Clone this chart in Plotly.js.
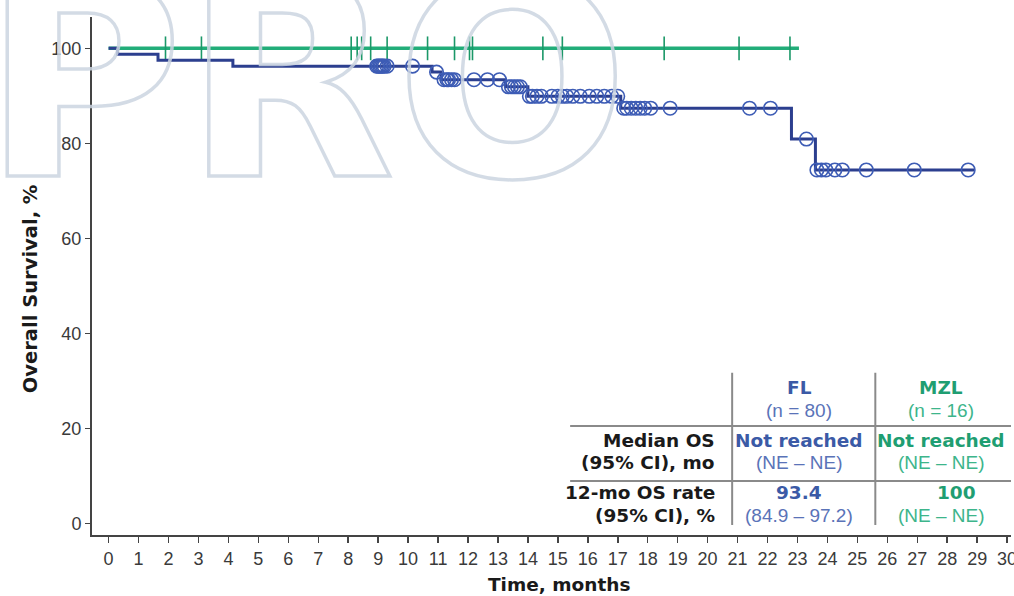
<!DOCTYPE html>
<html>
<head>
<meta charset="utf-8">
<script src="https://cdn.plot.ly/plotly-3.0.1.min.js"></script>
<style>
  html, body { margin: 0; padding: 0; background: #ffffff; }
  #chart { width: 1014px; height: 596px; }
  /* outlined "PRO" mark */
  .annotation[data-index="0"] .annotation-text {
    fill: none !important;
    stroke: rgba(203, 213, 224, 0.85);
    stroke-width: 3.5px;
  }
</style>
</head>
<body>
<div id="chart"></div>
<script>
// ---- Kaplan-Meier data (months, % surviving) ----
// FL: event times and survival just after each event
const flEventTimes = [0.3, 1.65, 4.15, 10.8, 11.1, 13.25, 14.0, 17.1, 22.8, 23.6];
const flSurvival   = [98.75, 97.5, 96.25, 95.0, 93.4, 91.9, 89.9, 87.4, 80.9, 74.4];
const flCensorTimes = [
  8.95, 9.0, 9.05, 9.1, 9.15, 9.2, 9.3, 10.15,
  10.95,
  11.2, 11.3, 11.35, 11.45, 11.55, 12.2, 12.65, 13.05,
  13.35, 13.45, 13.55, 13.65, 13.75,
  14.05, 14.15, 14.3, 14.45, 14.8, 15.0, 15.15, 15.3, 15.5, 15.75, 16.05, 16.3, 16.55, 16.8, 17.0,
  17.2, 17.3, 17.45, 17.6, 17.75, 17.9, 18.1, 18.75, 21.4, 22.1,
  23.3,
  23.65, 23.8, 23.95, 24.25, 24.5, 25.3, 26.9, 28.7
];
const flLastFollowUp = 28.9;

// MZL: no deaths observed
const mzlEventTimes = [];
const mzlSurvival   = [];
const mzlCensorTimes = [1.9, 3.1, 8.1, 8.3, 8.45, 8.75, 9.3, 10.65, 11.55, 12.05, 12.15,
                        14.5, 15.15, 18.55, 21.05, 22.75];
const mzlLastFollowUp = 23.05;

// ---- summary table ----
const groupNames   = ['FL', 'MZL'];
const groupN       = ['(n = 80)', '(n = 16)'];
const medianOS     = ['Not reached', 'Not reached'];
const medianOSCI   = ['(NE \u2013 NE)', '(NE \u2013 NE)'];
const rate12mo     = ['93.4', '100'];
const rate12moCI   = ['(84.9 \u2013 97.2)', '(NE \u2013 NE)'];
const rowLabels    = [['Median OS', '(95% CI), mo'], ['12-mo OS rate', '(95% CI), %']];

// ---- axes ----
const xTicks = Array.from({length: 31}, (_, i) => i);
const yTicks = [0, 20, 40, 60, 80, 100];

// ---- styling ----
const FL_LINE = '#2c3f8f', FL_MARK = '#3d5cb5', FL_TEXT = '#3b5aa6', FL_TEXT2 = '#5a73b8';
const MZL_LINE = '#22ad79', MZL_MARK = '#1b9868', MZL_TEXT = '#1f9e72', MZL_TEXT2 = '#3db58b';
const BOLD = 'DejaVu Sans, Liberation Sans, Arial, sans-serif';
const REG = 'Liberation Sans, Arial, sans-serif';

function stepPath(times, surv, last) {
  const x = [0], y = [100];
  times.forEach((t, i) => { x.push(t); y.push(surv[i]); });
  x.push(last); y.push(surv.length ? surv[surv.length - 1] : 100);
  return {x, y};
}
function survAt(times, surv, t) {
  let s = 100;
  times.forEach((tt, i) => { if (tt <= t) s = surv[i]; });
  return s;
}

const flPath = stepPath(flEventTimes, flSurvival, flLastFollowUp);
const mzlPath = stepPath(mzlEventTimes, mzlSurvival, mzlLastFollowUp);

const traces = [
  { x: mzlPath.x, y: mzlPath.y, mode: 'lines', line: {shape: 'hv', color: MZL_LINE, width: 3.5}, hoverinfo: 'skip' },
  { x: mzlCensorTimes, y: mzlCensorTimes.map(t => survAt(mzlEventTimes, mzlSurvival, t)), mode: 'markers',
    marker: {symbol: 'line-ns-open', size: 17, color: MZL_MARK, line: {color: MZL_MARK, width: 1.6}} },
  { x: flPath.x, y: flPath.y, mode: 'lines', line: {shape: 'hv', color: FL_LINE, width: 3}, hoverinfo: 'skip' },
  { x: flCensorTimes, y: flCensorTimes.map(t => survAt(flEventTimes, flSurvival, t)), mode: 'markers',
    marker: {symbol: 'circle-open', size: 13.5, color: FL_MARK, line: {color: FL_MARK, width: 1.6}} }
];

// table geometry in axis units
const colX = [23.06, 27.8];
const labelX = 20.32;
const headY = [28.5, 23.85];
const rowY = [[17.5, 12.9], [6.4, 1.75]];

const annotations = [
  { text: 'PRO', xref: 'paper', yref: 'paper', x: -0.122, y: 1.19, xanchor: 'left', yanchor: 'top',
    showarrow: false, font: {family: 'DejaVu Sans', size: 275, weight: 700, color: '#cbd5e0'} },
  { text: 'Time, months', xref: 'paper', yref: 'paper', x: 0.508, y: -0.0965, xanchor: 'center', yanchor: 'middle',
    showarrow: false, font: {family: BOLD, size: 18.5, weight: 700, color: '#1a1a1a'} },
  { text: 'Overall Survival, %', xref: 'paper', yref: 'paper', x: -0.066, y: 0.475, textangle: -90,
    xanchor: 'center', yanchor: 'middle', showarrow: false,
    font: {family: BOLD, size: 19.5, weight: 700, color: '#1a1a1a'} }
];

const colours = [[FL_TEXT, FL_TEXT2], [MZL_TEXT, MZL_TEXT2]];
groupNames.forEach((g, i) => {
  const cells = [
    [g, headY[0], true], [groupN[i], headY[1], false],
    [medianOS[i], rowY[0][0], true], [medianOSCI[i], rowY[0][1], false],
    [rate12mo[i], rowY[1][0], true], [rate12moCI[i], rowY[1][1], false]
  ];
  cells.forEach(([txt, y, bold]) => {
    annotations.push({
      text: txt, x: colX[i], y: y, xref: 'x', yref: 'y', xanchor: 'center', yanchor: 'middle', showarrow: false,
      xshift: (i === 1 && txt === rate12mo[1]) ? 15 : 0,
      font: bold ? {family: BOLD, size: 18.5, weight: 700, color: colours[i][0]}
                 : {family: REG, size: 19, color: colours[i][1]}
    });
  });
});
rowLabels.forEach((pair, r) => {
  pair.forEach((txt, k) => {
    annotations.push({
      text: txt, x: labelX, y: rowY[r][k], xref: 'x', yref: 'y', xanchor: 'right', yanchor: 'middle', showarrow: false,
      font: {family: BOLD, size: 18.5, weight: 700, color: '#1a1a1a'}
    });
  });
});

const ruleStyle = {color: '#8a8a8a', width: 2};
const shapes = [
  {type: 'line', xref: 'x', yref: 'y', x0: 15.41, x1: 30.13, y0: 20.5, y1: 20.5, line: ruleStyle},
  {type: 'line', xref: 'x', yref: 'y', x0: 15.41, x1: 30.13, y0: 8.9, y1: 8.9, line: ruleStyle},
  {type: 'line', xref: 'x', yref: 'y', x0: 20.82, x1: 20.82, y0: 31.7, y1: -0.35, line: ruleStyle},
  {type: 'line', xref: 'x', yref: 'y', x0: 25.6, x1: 25.6, y0: 31.7, y1: -0.35, line: ruleStyle}
];

const axisCommon = {
  showgrid: false, zeroline: false, showline: true, linecolor: '#444', linewidth: 2,
  ticks: 'outside', tickcolor: '#444', tickwidth: 1.5, tickangle: 0, ticklabeloverflow: 'allow',
  tickfont: {family: REG, size: 18, color: '#3a3a3a'}, fixedrange: true
};

const layout = {
  width: 1014, height: 596,
  margin: {l: 92, r: 3, t: 17, b: 61, pad: 0},
  paper_bgcolor: '#ffffff', plot_bgcolor: '#ffffff',
  showlegend: false,
  xaxis: Object.assign({}, axisCommon, {range: [-0.554, 30.13], tickvals: xTicks, ticktext: xTicks.map(String), ticklen: 6}),
  yaxis: Object.assign({}, axisCommon, {range: [-2.46, 106.6], tickvals: yTicks, ticktext: yTicks.map(String), ticklen: 5}),
  annotations: annotations,
  shapes: shapes
};

Plotly.newPlot('chart', traces, layout, {displayModeBar: false, staticPlot: true});
</script>
</body>
</html>
